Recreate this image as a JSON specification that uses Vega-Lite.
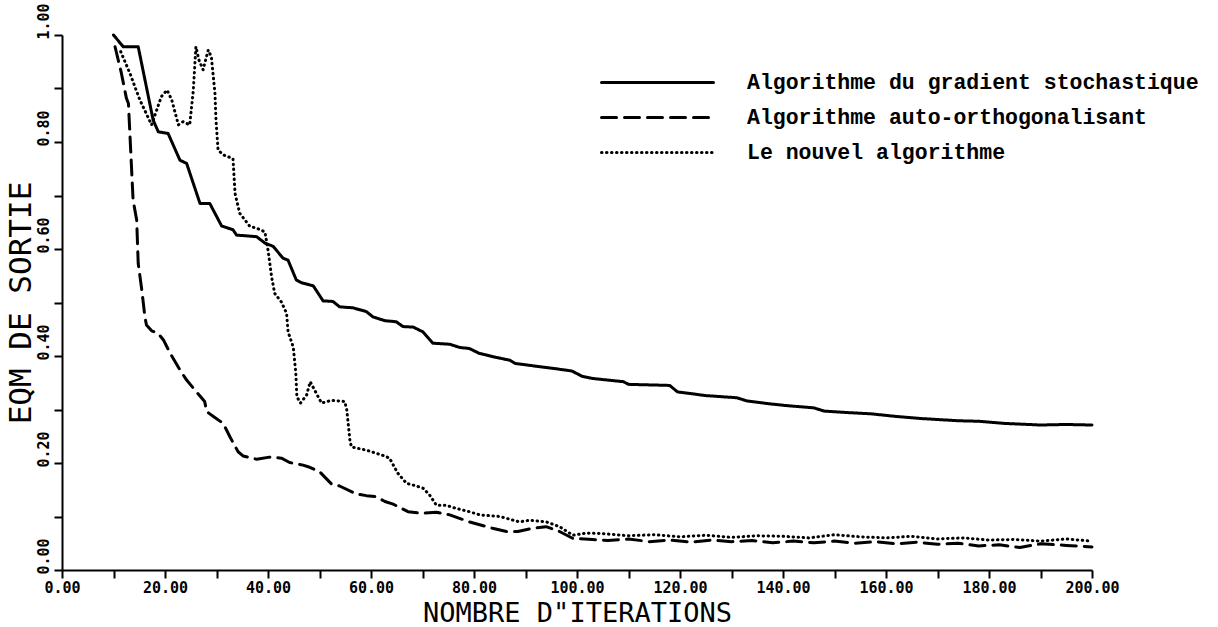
{
  "$schema": "https://vega.github.io/schema/vega-lite/v6.json",
  "width": 1030,
  "height": 535,
  "autosize": {"type": "none"},
  "padding": {"left": 62, "top": 35, "right": 126, "bottom": 57},
  "background": "white",
  "config": {"view": {"stroke": null}},
  "data": {"values": [
    {"algo":"Algorithme du gradient stochastique","iter":10,"eqm":1.0},
    {"algo":"Algorithme du gradient stochastique","iter":11.9,"eqm":0.978},
    {"algo":"Algorithme du gradient stochastique","iter":14.8,"eqm":0.978},
    {"algo":"Algorithme du gradient stochastique","iter":17.7,"eqm":0.841},
    {"algo":"Algorithme du gradient stochastique","iter":18.7,"eqm":0.819},
    {"algo":"Algorithme du gradient stochastique","iter":20.6,"eqm":0.816},
    {"algo":"Algorithme du gradient stochastique","iter":22.9,"eqm":0.766},
    {"algo":"Algorithme du gradient stochastique","iter":24.2,"eqm":0.76},
    {"algo":"Algorithme du gradient stochastique","iter":26.8,"eqm":0.685},
    {"algo":"Algorithme du gradient stochastique","iter":28.7,"eqm":0.685},
    {"algo":"Algorithme du gradient stochastique","iter":31.0,"eqm":0.643},
    {"algo":"Algorithme du gradient stochastique","iter":33.2,"eqm":0.636},
    {"algo":"Algorithme du gradient stochastique","iter":33.9,"eqm":0.626},
    {"algo":"Algorithme du gradient stochastique","iter":37.8,"eqm":0.623},
    {"algo":"Algorithme du gradient stochastique","iter":39.4,"eqm":0.611},
    {"algo":"Algorithme du gradient stochastique","iter":41.0,"eqm":0.605},
    {"algo":"Algorithme du gradient stochastique","iter":42.9,"eqm":0.583},
    {"algo":"Algorithme du gradient stochastique","iter":43.9,"eqm":0.579},
    {"algo":"Algorithme du gradient stochastique","iter":45.5,"eqm":0.542},
    {"algo":"Algorithme du gradient stochastique","iter":46.5,"eqm":0.537},
    {"algo":"Algorithme du gradient stochastique","iter":48.8,"eqm":0.531},
    {"algo":"Algorithme du gradient stochastique","iter":50.7,"eqm":0.503},
    {"algo":"Algorithme du gradient stochastique","iter":52.6,"eqm":0.502},
    {"algo":"Algorithme du gradient stochastique","iter":53.9,"eqm":0.492},
    {"algo":"Algorithme du gradient stochastique","iter":56.5,"eqm":0.49},
    {"algo":"Algorithme du gradient stochastique","iter":59.1,"eqm":0.483},
    {"algo":"Algorithme du gradient stochastique","iter":60.4,"eqm":0.473},
    {"algo":"Algorithme du gradient stochastique","iter":62.7,"eqm":0.466},
    {"algo":"Algorithme du gradient stochastique","iter":64.9,"eqm":0.464},
    {"algo":"Algorithme du gradient stochastique","iter":66.2,"eqm":0.455},
    {"algo":"Algorithme du gradient stochastique","iter":68.2,"eqm":0.454},
    {"algo":"Algorithme du gradient stochastique","iter":70.1,"eqm":0.445},
    {"algo":"Algorithme du gradient stochastique","iter":72.0,"eqm":0.424},
    {"algo":"Algorithme du gradient stochastique","iter":75.3,"eqm":0.422},
    {"algo":"Algorithme du gradient stochastique","iter":77.2,"eqm":0.416},
    {"algo":"Algorithme du gradient stochastique","iter":79.1,"eqm":0.414},
    {"algo":"Algorithme du gradient stochastique","iter":81,"eqm":0.405},
    {"algo":"Algorithme du gradient stochastique","iter":84,"eqm":0.398},
    {"algo":"Algorithme du gradient stochastique","iter":87,"eqm":0.392},
    {"algo":"Algorithme du gradient stochastique","iter":88,"eqm":0.386},
    {"algo":"Algorithme du gradient stochastique","iter":92,"eqm":0.381},
    {"algo":"Algorithme du gradient stochastique","iter":96,"eqm":0.376},
    {"algo":"Algorithme du gradient stochastique","iter":99,"eqm":0.372},
    {"algo":"Algorithme du gradient stochastique","iter":101,"eqm":0.362},
    {"algo":"Algorithme du gradient stochastique","iter":103,"eqm":0.358},
    {"algo":"Algorithme du gradient stochastique","iter":109,"eqm":0.352},
    {"algo":"Algorithme du gradient stochastique","iter":110,"eqm":0.347},
    {"algo":"Algorithme du gradient stochastique","iter":118,"eqm":0.345},
    {"algo":"Algorithme du gradient stochastique","iter":119.5,"eqm":0.333},
    {"algo":"Algorithme du gradient stochastique","iter":125,"eqm":0.326},
    {"algo":"Algorithme du gradient stochastique","iter":131,"eqm":0.322},
    {"algo":"Algorithme du gradient stochastique","iter":133,"eqm":0.316},
    {"algo":"Algorithme du gradient stochastique","iter":137,"eqm":0.311},
    {"algo":"Algorithme du gradient stochastique","iter":141,"eqm":0.307},
    {"algo":"Algorithme du gradient stochastique","iter":146,"eqm":0.303},
    {"algo":"Algorithme du gradient stochastique","iter":148,"eqm":0.297},
    {"algo":"Algorithme du gradient stochastique","iter":153,"eqm":0.294},
    {"algo":"Algorithme du gradient stochastique","iter":157,"eqm":0.292},
    {"algo":"Algorithme du gradient stochastique","iter":162,"eqm":0.287},
    {"algo":"Algorithme du gradient stochastique","iter":167,"eqm":0.283},
    {"algo":"Algorithme du gradient stochastique","iter":174,"eqm":0.279},
    {"algo":"Algorithme du gradient stochastique","iter":178,"eqm":0.278},
    {"algo":"Algorithme du gradient stochastique","iter":183,"eqm":0.274},
    {"algo":"Algorithme du gradient stochastique","iter":190,"eqm":0.271},
    {"algo":"Algorithme du gradient stochastique","iter":195,"eqm":0.272},
    {"algo":"Algorithme du gradient stochastique","iter":200,"eqm":0.271},

    {"algo":"Algorithme auto-orthogonalisant","iter":10.3,"eqm":0.978},
    {"algo":"Algorithme auto-orthogonalisant","iter":11.5,"eqm":0.93},
    {"algo":"Algorithme auto-orthogonalisant","iter":12.5,"eqm":0.882},
    {"algo":"Algorithme auto-orthogonalisant","iter":12.9,"eqm":0.872},
    {"algo":"Algorithme auto-orthogonalisant","iter":13.8,"eqm":0.692},
    {"algo":"Algorithme auto-orthogonalisant","iter":14.5,"eqm":0.654},
    {"algo":"Algorithme auto-orthogonalisant","iter":14.8,"eqm":0.573},
    {"algo":"Algorithme auto-orthogonalisant","iter":15.5,"eqm":0.523},
    {"algo":"Algorithme auto-orthogonalisant","iter":16.1,"eqm":0.473},
    {"algo":"Algorithme auto-orthogonalisant","iter":16.4,"eqm":0.458},
    {"algo":"Algorithme auto-orthogonalisant","iter":17.4,"eqm":0.447},
    {"algo":"Algorithme auto-orthogonalisant","iter":18.7,"eqm":0.442},
    {"algo":"Algorithme auto-orthogonalisant","iter":19.7,"eqm":0.43},
    {"algo":"Algorithme auto-orthogonalisant","iter":21.0,"eqm":0.405},
    {"algo":"Algorithme auto-orthogonalisant","iter":22.9,"eqm":0.374},
    {"algo":"Algorithme auto-orthogonalisant","iter":24.2,"eqm":0.355},
    {"algo":"Algorithme auto-orthogonalisant","iter":26.1,"eqm":0.333},
    {"algo":"Algorithme auto-orthogonalisant","iter":27.7,"eqm":0.315},
    {"algo":"Algorithme auto-orthogonalisant","iter":28.1,"eqm":0.296},
    {"algo":"Algorithme auto-orthogonalisant","iter":29.4,"eqm":0.287},
    {"algo":"Algorithme auto-orthogonalisant","iter":31.3,"eqm":0.274},
    {"algo":"Algorithme auto-orthogonalisant","iter":32.6,"eqm":0.249},
    {"algo":"Algorithme auto-orthogonalisant","iter":34.2,"eqm":0.221},
    {"algo":"Algorithme auto-orthogonalisant","iter":35.2,"eqm":0.213},
    {"algo":"Algorithme auto-orthogonalisant","iter":37.8,"eqm":0.207},
    {"algo":"Algorithme auto-orthogonalisant","iter":40.3,"eqm":0.211},
    {"algo":"Algorithme auto-orthogonalisant","iter":42.6,"eqm":0.209},
    {"algo":"Algorithme auto-orthogonalisant","iter":44.2,"eqm":0.201},
    {"algo":"Algorithme auto-orthogonalisant","iter":46.8,"eqm":0.196},
    {"algo":"Algorithme auto-orthogonalisant","iter":48.1,"eqm":0.192},
    {"algo":"Algorithme auto-orthogonalisant","iter":50.0,"eqm":0.184},
    {"algo":"Algorithme auto-orthogonalisant","iter":52.3,"eqm":0.161},
    {"algo":"Algorithme auto-orthogonalisant","iter":53.9,"eqm":0.157},
    {"algo":"Algorithme auto-orthogonalisant","iter":57.2,"eqm":0.142},
    {"algo":"Algorithme auto-orthogonalisant","iter":59.1,"eqm":0.139},
    {"algo":"Algorithme auto-orthogonalisant","iter":61.0,"eqm":0.137},
    {"algo":"Algorithme auto-orthogonalisant","iter":62.7,"eqm":0.128},
    {"algo":"Algorithme auto-orthogonalisant","iter":64.3,"eqm":0.123},
    {"algo":"Algorithme auto-orthogonalisant","iter":67.2,"eqm":0.109},
    {"algo":"Algorithme auto-orthogonalisant","iter":69.8,"eqm":0.106},
    {"algo":"Algorithme auto-orthogonalisant","iter":72.7,"eqm":0.108},
    {"algo":"Algorithme auto-orthogonalisant","iter":75.3,"eqm":0.103},
    {"algo":"Algorithme auto-orthogonalisant","iter":79.1,"eqm":0.09},
    {"algo":"Algorithme auto-orthogonalisant","iter":83.6,"eqm":0.078},
    {"algo":"Algorithme auto-orthogonalisant","iter":86.3,"eqm":0.072},
    {"algo":"Algorithme auto-orthogonalisant","iter":88.5,"eqm":0.072},
    {"algo":"Algorithme auto-orthogonalisant","iter":91.4,"eqm":0.078},
    {"algo":"Algorithme auto-orthogonalisant","iter":94,"eqm":0.081},
    {"algo":"Algorithme auto-orthogonalisant","iter":96.6,"eqm":0.072},
    {"algo":"Algorithme auto-orthogonalisant","iter":99.2,"eqm":0.059},
    {"algo":"Algorithme auto-orthogonalisant","iter":103,"eqm":0.057},
    {"algo":"Algorithme auto-orthogonalisant","iter":106,"eqm":0.055},
    {"algo":"Algorithme auto-orthogonalisant","iter":110,"eqm":0.058},
    {"algo":"Algorithme auto-orthogonalisant","iter":114,"eqm":0.053},
    {"algo":"Algorithme auto-orthogonalisant","iter":118,"eqm":0.056},
    {"algo":"Algorithme auto-orthogonalisant","iter":122,"eqm":0.052},
    {"algo":"Algorithme auto-orthogonalisant","iter":126,"eqm":0.056},
    {"algo":"Algorithme auto-orthogonalisant","iter":130,"eqm":0.053},
    {"algo":"Algorithme auto-orthogonalisant","iter":134,"eqm":0.055},
    {"algo":"Algorithme auto-orthogonalisant","iter":138,"eqm":0.051},
    {"algo":"Algorithme auto-orthogonalisant","iter":142,"eqm":0.054},
    {"algo":"Algorithme auto-orthogonalisant","iter":146,"eqm":0.051},
    {"algo":"Algorithme auto-orthogonalisant","iter":150,"eqm":0.054},
    {"algo":"Algorithme auto-orthogonalisant","iter":154,"eqm":0.05},
    {"algo":"Algorithme auto-orthogonalisant","iter":158,"eqm":0.053},
    {"algo":"Algorithme auto-orthogonalisant","iter":162,"eqm":0.049},
    {"algo":"Algorithme auto-orthogonalisant","iter":166,"eqm":0.052},
    {"algo":"Algorithme auto-orthogonalisant","iter":170,"eqm":0.048},
    {"algo":"Algorithme auto-orthogonalisant","iter":174,"eqm":0.05},
    {"algo":"Algorithme auto-orthogonalisant","iter":178,"eqm":0.045},
    {"algo":"Algorithme auto-orthogonalisant","iter":182,"eqm":0.047},
    {"algo":"Algorithme auto-orthogonalisant","iter":186,"eqm":0.042},
    {"algo":"Algorithme auto-orthogonalisant","iter":190,"eqm":0.049},
    {"algo":"Algorithme auto-orthogonalisant","iter":195,"eqm":0.046},
    {"algo":"Algorithme auto-orthogonalisant","iter":200,"eqm":0.043},

    {"algo":"Le nouvel algorithme","iter":11.4,"eqm":0.969},
    {"algo":"Le nouvel algorithme","iter":13.2,"eqm":0.928},
    {"algo":"Le nouvel algorithme","iter":15.1,"eqm":0.879},
    {"algo":"Le nouvel algorithme","iter":17.4,"eqm":0.832},
    {"algo":"Le nouvel algorithme","iter":18.4,"eqm":0.86},
    {"algo":"Le nouvel algorithme","iter":19.3,"eqm":0.885},
    {"algo":"Le nouvel algorithme","iter":20.4,"eqm":0.897},
    {"algo":"Le nouvel algorithme","iter":21.3,"eqm":0.879},
    {"algo":"Le nouvel algorithme","iter":22.6,"eqm":0.832},
    {"algo":"Le nouvel algorithme","iter":23.5,"eqm":0.838},
    {"algo":"Le nouvel algorithme","iter":24.8,"eqm":0.832},
    {"algo":"Le nouvel algorithme","iter":25.5,"eqm":0.897},
    {"algo":"Le nouvel algorithme","iter":26.0,"eqm":0.978},
    {"algo":"Le nouvel algorithme","iter":26.6,"eqm":0.953},
    {"algo":"Le nouvel algorithme","iter":27.4,"eqm":0.935},
    {"algo":"Le nouvel algorithme","iter":28.4,"eqm":0.972},
    {"algo":"Le nouvel algorithme","iter":29.0,"eqm":0.959},
    {"algo":"Le nouvel algorithme","iter":29.7,"eqm":0.891},
    {"algo":"Le nouvel algorithme","iter":29.9,"eqm":0.841},
    {"algo":"Le nouvel algorithme","iter":30.3,"eqm":0.785},
    {"algo":"Le nouvel algorithme","iter":31.3,"eqm":0.776},
    {"algo":"Le nouvel algorithme","iter":33.2,"eqm":0.769},
    {"algo":"Le nouvel algorithme","iter":33.6,"eqm":0.704},
    {"algo":"Le nouvel algorithme","iter":34.5,"eqm":0.667},
    {"algo":"Le nouvel algorithme","iter":36.5,"eqm":0.642},
    {"algo":"Le nouvel algorithme","iter":37.8,"eqm":0.639},
    {"algo":"Le nouvel algorithme","iter":39.4,"eqm":0.632},
    {"algo":"Le nouvel algorithme","iter":40.0,"eqm":0.598},
    {"algo":"Le nouvel algorithme","iter":40.7,"eqm":0.548},
    {"algo":"Le nouvel algorithme","iter":41.3,"eqm":0.517},
    {"algo":"Le nouvel algorithme","iter":42.6,"eqm":0.501},
    {"algo":"Le nouvel algorithme","iter":43.6,"eqm":0.48},
    {"algo":"Le nouvel algorithme","iter":43.9,"eqm":0.445},
    {"algo":"Le nouvel algorithme","iter":44.9,"eqm":0.417},
    {"algo":"Le nouvel algorithme","iter":45.4,"eqm":0.368},
    {"algo":"Le nouvel algorithme","iter":45.6,"eqm":0.324},
    {"algo":"Le nouvel algorithme","iter":46.3,"eqm":0.312},
    {"algo":"Le nouvel algorithme","iter":47.5,"eqm":0.327},
    {"algo":"Le nouvel algorithme","iter":48.2,"eqm":0.352},
    {"algo":"Le nouvel algorithme","iter":49.4,"eqm":0.33},
    {"algo":"Le nouvel algorithme","iter":50.4,"eqm":0.312},
    {"algo":"Le nouvel algorithme","iter":52.3,"eqm":0.317},
    {"algo":"Le nouvel algorithme","iter":54.9,"eqm":0.315},
    {"algo":"Le nouvel algorithme","iter":55.3,"eqm":0.299},
    {"algo":"Le nouvel algorithme","iter":55.9,"eqm":0.243},
    {"algo":"Le nouvel algorithme","iter":56.2,"eqm":0.23},
    {"algo":"Le nouvel algorithme","iter":59.1,"eqm":0.224},
    {"algo":"Le nouvel algorithme","iter":62.7,"eqm":0.213},
    {"algo":"Le nouvel algorithme","iter":63.6,"eqm":0.209},
    {"algo":"Le nouvel algorithme","iter":65.2,"eqm":0.181},
    {"algo":"Le nouvel algorithme","iter":66.9,"eqm":0.162},
    {"algo":"Le nouvel algorithme","iter":68.8,"eqm":0.157},
    {"algo":"Le nouvel algorithme","iter":70.1,"eqm":0.153},
    {"algo":"Le nouvel algorithme","iter":71.4,"eqm":0.14},
    {"algo":"Le nouvel algorithme","iter":72.7,"eqm":0.121},
    {"algo":"Le nouvel algorithme","iter":74.6,"eqm":0.121},
    {"algo":"Le nouvel algorithme","iter":76.6,"eqm":0.115},
    {"algo":"Le nouvel algorithme","iter":79.1,"eqm":0.109},
    {"algo":"Le nouvel algorithme","iter":81.1,"eqm":0.103},
    {"algo":"Le nouvel algorithme","iter":85,"eqm":0.1},
    {"algo":"Le nouvel algorithme","iter":88.8,"eqm":0.09},
    {"algo":"Le nouvel algorithme","iter":90.8,"eqm":0.093},
    {"algo":"Le nouvel algorithme","iter":94.0,"eqm":0.09},
    {"algo":"Le nouvel algorithme","iter":96.6,"eqm":0.081},
    {"algo":"Le nouvel algorithme","iter":99.2,"eqm":0.065},
    {"algo":"Le nouvel algorithme","iter":101.8,"eqm":0.069},
    {"algo":"Le nouvel algorithme","iter":105,"eqm":0.068},
    {"algo":"Le nouvel algorithme","iter":110,"eqm":0.064},
    {"algo":"Le nouvel algorithme","iter":115,"eqm":0.066},
    {"algo":"Le nouvel algorithme","iter":120,"eqm":0.062},
    {"algo":"Le nouvel algorithme","iter":125,"eqm":0.065},
    {"algo":"Le nouvel algorithme","iter":130,"eqm":0.061},
    {"algo":"Le nouvel algorithme","iter":135,"eqm":0.064},
    {"algo":"Le nouvel algorithme","iter":140,"eqm":0.063},
    {"algo":"Le nouvel algorithme","iter":145,"eqm":0.06},
    {"algo":"Le nouvel algorithme","iter":150,"eqm":0.066},
    {"algo":"Le nouvel algorithme","iter":155,"eqm":0.062},
    {"algo":"Le nouvel algorithme","iter":160,"eqm":0.06},
    {"algo":"Le nouvel algorithme","iter":165,"eqm":0.063},
    {"algo":"Le nouvel algorithme","iter":170,"eqm":0.058},
    {"algo":"Le nouvel algorithme","iter":175,"eqm":0.06},
    {"algo":"Le nouvel algorithme","iter":180,"eqm":0.056},
    {"algo":"Le nouvel algorithme","iter":185,"eqm":0.057},
    {"algo":"Le nouvel algorithme","iter":190,"eqm":0.054},
    {"algo":"Le nouvel algorithme","iter":195,"eqm":0.058},
    {"algo":"Le nouvel algorithme","iter":200,"eqm":0.054}
  ]},
  "mark": {"type": "line", "color": "black", "strokeWidth": 3, "strokeCap": "round", "strokeJoin": "round"},
  "encoding": {
    "x": {
      "field": "iter", "type": "quantitative",
      "scale": {"domain": [0, 200], "nice": false, "zero": false},
      "axis": {
        "values": [0,10,20,30,40,50,60,70,80,90,100,110,120,130,140,150,160,170,180,190,200],
        "labelExpr": "datum.value % 20 === 0 ? format(datum.value, '.2f') : ''",
        "grid": false, "domainColor": "black", "domainWidth": 2, "tickColor": "black", "tickWidth": 2, "tickSize": 8,
        "labelFont": "DejaVu Sans Mono", "labelFontWeight": "bold", "labelFontSize": 15, "labelColor": "black",
        "labelPadding": 2, "labelFlush": false, "labelOverlap": false,
        "title": "NOMBRE D\"ITERATIONS", "titleFont": "DejaVu Sans Mono", "titleFontWeight": "normal", "titleFontSize": 27,
        "titleColor": "black", "titlePadding": 0, "titleBaseline": "bottom", "titleY": 57
      }
    },
    "y": {
      "field": "eqm", "type": "quantitative",
      "scale": {"domain": [0, 1], "nice": false, "zero": false},
      "axis": {
        "values": [0,0.1,0.2,0.3,0.4,0.5,0.6,0.7,0.8,0.9,1.0],
        "labelExpr": "round(datum.value * 10) % 2 === 0 ? format(datum.value, '.2f') : ''",
        "grid": false, "domainColor": "black", "domainWidth": 2, "tickColor": "black", "tickWidth": 2, "tickSize": 8,
        "labelFont": "DejaVu Sans Mono", "labelFontWeight": "bold", "labelFontSize": 15, "labelColor": "black",
        "labelAngle": 270, "labelAlign": "left", "labelBaseline": "bottom", "labelPadding": 3, "labelOffset": 4,
        "labelFlush": false, "labelOverlap": false,
        "title": "EQM DE SORTIE", "titleFont": "DejaVu Sans Mono", "titleFontWeight": "normal", "titleFontSize": 31,
        "titleColor": "black", "titleAngle": 270, "titleAlign": "center", "titleBaseline": "middle", "titleX": -41
      }
    },
    "strokeDash": {
      "field": "algo", "type": "nominal",
      "scale": {
        "domain": ["Algorithme du gradient stochastique", "Algorithme auto-orthogonalisant", "Le nouvel algorithme"],
        "range": [[1, 0], [15, 8], [0.5, 4.5]]
      },
      "legend": {
        "orient": "none", "legendX": 538, "legendY": 35, "title": null,
        "symbolType": "stroke", "symbolSize": 12544, "symbolStrokeWidth": 3, "symbolStrokeColor": "black",
        "labelFont": "Liberation Mono", "labelFontWeight": "bold", "labelFontSize": 21.5, "labelColor": "black",
        "labelOffset": 32, "labelLimit": 700, "clipHeight": 25, "rowPadding": 10,
        "encode": {"symbols": {"update": {"strokeCap": {"value": "round"}}}}
      }
    }
  }
}
